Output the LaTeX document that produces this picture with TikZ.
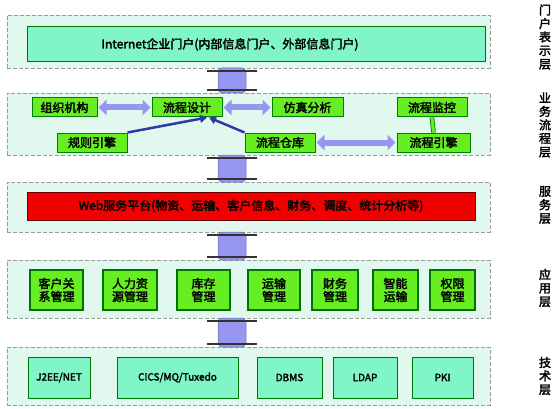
\documentclass[tikz,border=0pt]{standalone}
\usepackage{fontspec}
\setmainfont{Noto Sans CJK SC}[FakeBold=2.5]
\usepackage{xcolor}
\usepackage{tikz}
\usetikzlibrary{arrows.meta, positioning, calc}
\definecolor{layermint}{RGB}{224, 248, 238}
\definecolor{aquabox}{RGB}{128, 245, 200}
\definecolor{limebox}{RGB}{102, 238, 34}
\definecolor{linklav}{RGB}{150, 150, 240}
\definecolor{arrowblue}{RGB}{42, 58, 168}

\begin{document}
\begin{tikzpicture}[x=1pt, y=-1pt,
          layer/.style={rectangle, fill=layermint, draw=gray!80, dashed, dash pattern=on 4pt off 2pt, line width=0.8pt, minimum width=483pt},
          aquanode/.style={rectangle, fill=aquabox, draw=black!55!green, line width=1pt, inner sep=1pt, font=\fontsize{10}{11}\selectfont},
          limenode/.style={rectangle, fill=limebox, draw=black!50!green, line width=1pt, minimum height=19pt, inner sep=1pt, font=\fontsize{12}{13}\selectfont},
          appnode/.style={rectangle, fill=limebox, draw=black!55!green, line width=1.6pt, minimum height=40pt, inner sep=1pt, align=center, font=\fontsize{12}{13}\selectfont},
          linkblock/.style={rectangle, rounded corners=4pt, fill=linklav, draw=linklav!70!black, line width=0.5pt, minimum width=28pt, inner sep=0pt},
          flange/.style={draw=black!80, line width=1.6pt},
          fatarrow/.style={line width=6pt, linklav, {Triangle[width=15pt,length=8pt]}-{Triangle[width=15pt,length=8pt]}, shorten <=1pt, shorten >=1pt},
          thinarrow/.style={line width=2.5pt, arrowblue, -{Triangle[width=8pt,length=7pt]}},
          sidelabel/.style={align=center, font=\fontsize{12}{13.5}\selectfont}
        ]
          \useasboundingbox (0,0) rectangle (559,409);

          % Portal layer
          \node[layer, minimum height=53pt] (portallayer) at (248.5,41.5) {};
          \node[aquanode, minimum width=458pt, minimum height=35pt] (portal) at (256,44.5) {};
          \node[font=\fontsize{12}{13}\selectfont] (portaltext) at (230,44.5) {Internet企业门户(内部信息门户、外部信息门户)};

          % Process layer
          \node[layer, minimum height=62pt] (processlayer) at (248.5,124) {};
          \node[limenode, minimum width=65pt] (org) at (64.5,107.5) {组织机构};
          \node[limenode, minimum width=70pt] (design) at (187,107.5) {流程设计};
          \node[limenode, minimum width=71pt] (sim) at (307.5,107.5) {仿真分析};
          \node[limenode, minimum width=70pt] (monitor) at (432,107.5) {流程监控};
          \node[limenode, minimum width=70pt] (rules) at (92,142.5) {规则引擎};
          \node[limenode, minimum width=70pt] (repo) at (280,142.5) {流程仓库};
          \node[limenode, minimum width=73pt] (engine) at (433.5,142.5) {流程引擎};

          % Service layer
          \node[layer, minimum height=50pt] (servicelayer) at (248.5,207) {};
          \node[rectangle, fill=red!95!black, draw=black!60!red, line width=1pt, minimum width=448pt, minimum height=28pt, inner sep=1pt, font=\fontsize{12}{13}\selectfont] (webplat) at (251,206) {Web服务平台(物资、运输、客户信息、财务、调度、统计分析等)};

          % Application layer
          \node[layer, minimum height=58pt] (applayer) at (248.5,289) {};
          \node[appnode, minimum width=53pt] (crm) at (56.5,290) {客户关\\系管理};
          \node[appnode, minimum width=54pt] (hr) at (130,290) {人力资\\源管理};
          \node[appnode, minimum width=53pt] (stock) at (203.5,290) {库存\\管理};
          \node[appnode, minimum width=52pt] (trans) at (274,290) {运输\\管理};
          \node[appnode, minimum width=46pt] (fin) at (335,290) {财务\\管理};
          \node[appnode, minimum width=45pt] (smart) at (395.5,290) {智能\\运输};
          \node[appnode, minimum width=45pt] (auth) at (452.5,290) {权限\\管理};

          % Technology layer
          \node[layer, minimum height=58pt] (techlayer) at (248.5,376) {};
          \node[aquanode, minimum width=62pt, minimum height=41pt] (jee) at (59,377.5) {J2EE/NET};
          \node[aquanode, minimum width=121pt, minimum height=41pt] (cics) at (177.5,377.5) {CICS/MQ/Tuxedo};
          \node[aquanode, minimum width=65pt, minimum height=41pt] (dbms) at (289.5,377.5) {DBMS};
          \node[aquanode, minimum width=64pt, minimum height=41pt] (ldap) at (365,377.5) {LDAP};
          \node[aquanode, minimum width=61pt, minimum height=41pt] (pki) at (442.5,377.5) {PKI};

          % Links between layers
          \foreach \n/\y/\h in {k1/80.5/25, k2/168.5/27, k3/246/28, k4/332.5/29} {
            \node[linkblock, minimum height=\h pt] (\n) at (232,\y) {};
            \draw[flange] ($(\n.north west)+(-11,3)$) -- ($(\n.north east)+(11,3)$);
            \draw[flange] ($(\n.south west)+(-11,-3)$) -- ($(\n.south east)+(11,-3)$);
          }

          % Process connections
          \draw[fatarrow] (org.east) -- (design.west);
          \draw[fatarrow] (design.east) -- (sim.west);
          \draw[fatarrow] (repo.east) -- (engine.west);
          \draw[thinarrow] (rules.north east) -- ([xshift=20pt]design.south);
          \draw[thinarrow] (repo.north west) -- ([xshift=22pt]design.south);
          \draw[double=limebox, double distance=3pt, draw=black!50!green, line width=0.8pt] (monitor.south) -- (engine.north);

          % Layer labels
          \node[sidelabel] (lab1) at (545,37) {门\\户\\表\\示\\层};
          \node[sidelabel] (lab2) at (545,125) {业\\务\\流\\程\\层};
          \node[sidelabel] (lab3) at (545,205) {服\\务\\层};
          \node[sidelabel] (lab4) at (545,288) {应\\用\\层};
          \node[sidelabel] (lab5) at (545,376) {技\\术\\层};
        \end{tikzpicture}
\end{document}
